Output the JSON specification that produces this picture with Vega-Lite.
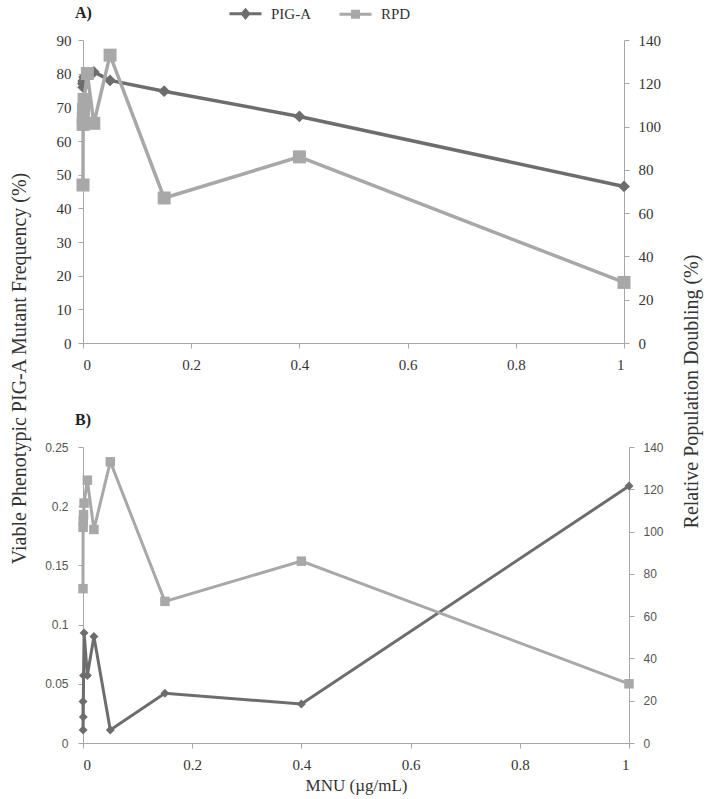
{
  "$schema": "https://vega.github.io/schema/vega-lite/v6.json",
  "background": "white",
  "padding": {"left": 9, "top": 2, "right": 5, "bottom": 2},
  "bounds": "flush",
  "spacing": 104,
  "config": {
    "view": {"stroke": null},
    "font": "Liberation Serif",
    "axis": {"grid": false, "domainColor": "#a6a6a6", "tickColor": "#a6a6a6", "labelColor": "#333333", "labelFont": "Liberation Serif", "labelFontSize": 15, "titleFont": "Liberation Serif", "titleFontSize": 20, "titleFontWeight": "normal", "titleColor": "#333333", "tickSize": 5, "labelPadding": 8},
    "legend": {"labelFont": "Liberation Serif"}
  },
  "datasets": {
    "d": [
      {"panel": "A", "series": "PIG-A", "ord": 1, "dose": 0, "value": 77},
      {"panel": "A", "series": "PIG-A", "ord": 2, "dose": 0.0002, "value": 76},
      {"panel": "A", "series": "PIG-A", "ord": 3, "dose": 0.0005, "value": 77.5},
      {"panel": "A", "series": "PIG-A", "ord": 4, "dose": 0.001, "value": 78},
      {"panel": "A", "series": "PIG-A", "ord": 5, "dose": 0.002, "value": 79},
      {"panel": "A", "series": "PIG-A", "ord": 6, "dose": 0.008, "value": 80},
      {"panel": "A", "series": "PIG-A", "ord": 7, "dose": 0.02, "value": 80.5},
      {"panel": "A", "series": "PIG-A", "ord": 8, "dose": 0.05, "value": 78},
      {"panel": "A", "series": "PIG-A", "ord": 9, "dose": 0.15, "value": 74.8},
      {"panel": "A", "series": "PIG-A", "ord": 10, "dose": 0.4, "value": 67.3},
      {"panel": "A", "series": "PIG-A", "ord": 11, "dose": 1, "value": 46.5},
      {"panel": "A", "series": "RPD", "ord": 1, "dose": 0, "value": 73},
      {"panel": "A", "series": "RPD", "ord": 2, "dose": 0.0002, "value": 101},
      {"panel": "A", "series": "RPD", "ord": 3, "dose": 0.0005, "value": 104},
      {"panel": "A", "series": "RPD", "ord": 4, "dose": 0.001, "value": 108},
      {"panel": "A", "series": "RPD", "ord": 5, "dose": 0.002, "value": 112.5},
      {"panel": "A", "series": "RPD", "ord": 6, "dose": 0.008, "value": 124.5},
      {"panel": "A", "series": "RPD", "ord": 7, "dose": 0.02, "value": 101.5},
      {"panel": "A", "series": "RPD", "ord": 8, "dose": 0.05, "value": 133},
      {"panel": "A", "series": "RPD", "ord": 9, "dose": 0.15, "value": 67},
      {"panel": "A", "series": "RPD", "ord": 10, "dose": 0.4, "value": 86},
      {"panel": "A", "series": "RPD", "ord": 11, "dose": 1, "value": 28},
      {"panel": "B", "series": "PIG-A", "ord": 1, "dose": 0, "value": 0.035},
      {"panel": "B", "series": "PIG-A", "ord": 2, "dose": 0.0002, "value": 0.011},
      {"panel": "B", "series": "PIG-A", "ord": 3, "dose": 0.0005, "value": 0.022},
      {"panel": "B", "series": "PIG-A", "ord": 4, "dose": 0.001, "value": 0.057},
      {"panel": "B", "series": "PIG-A", "ord": 5, "dose": 0.002, "value": 0.093},
      {"panel": "B", "series": "PIG-A", "ord": 6, "dose": 0.008, "value": 0.057},
      {"panel": "B", "series": "PIG-A", "ord": 7, "dose": 0.02, "value": 0.09},
      {"panel": "B", "series": "PIG-A", "ord": 8, "dose": 0.05, "value": 0.011},
      {"panel": "B", "series": "PIG-A", "ord": 9, "dose": 0.15, "value": 0.042},
      {"panel": "B", "series": "PIG-A", "ord": 10, "dose": 0.4, "value": 0.033},
      {"panel": "B", "series": "PIG-A", "ord": 11, "dose": 1, "value": 0.217},
      {"panel": "B", "series": "RPD", "ord": 1, "dose": 0, "value": 73},
      {"panel": "B", "series": "RPD", "ord": 2, "dose": 0.0002, "value": 102},
      {"panel": "B", "series": "RPD", "ord": 3, "dose": 0.0005, "value": 105},
      {"panel": "B", "series": "RPD", "ord": 4, "dose": 0.001, "value": 108},
      {"panel": "B", "series": "RPD", "ord": 5, "dose": 0.002, "value": 113.5},
      {"panel": "B", "series": "RPD", "ord": 6, "dose": 0.008, "value": 124.3},
      {"panel": "B", "series": "RPD", "ord": 7, "dose": 0.02, "value": 101},
      {"panel": "B", "series": "RPD", "ord": 8, "dose": 0.05, "value": 133},
      {"panel": "B", "series": "RPD", "ord": 9, "dose": 0.15, "value": 67},
      {"panel": "B", "series": "RPD", "ord": 10, "dose": 0.4, "value": 86},
      {"panel": "B", "series": "RPD", "ord": 11, "dose": 1, "value": 28}
    ]
  },
  "vconcat": [
    {
      "width": 541,
      "height": 303,
      "title": {"text": "A)", "anchor": "start", "frame": "group", "dx": -8, "offset": 12, "fontSize": 16, "fontWeight": "bold", "font": "Liberation Serif", "color": "#222222"},
      "data": {"name": "d"},
      "transform": [{"filter": "datum.panel === 'A'"}],
      "encoding": {
        "x": {"field": "dose", "type": "quantitative", "scale": {"domain": [0, 1], "nice": false}, "axis": {"values": [0, 0.2, 0.4, 0.6, 0.8, 1], "format": "~g", "title": null, "labelPadding": 9, "labelFont": "Liberation Serif"}},
        "color": {"field": "series", "type": "nominal", "scale": {"domain": ["PIG-A", "RPD"], "range": ["#6d6d6d", "#a8a8a8"]},
          "legend": {"orient": "none", "legendX": 151, "legendY": -38, "direction": "horizontal", "title": null, "labelFont": "Liberation Serif", "labelFontSize": 15, "labelColor": "#333333", "symbolSize": 400, "labelOffset": 14, "columnPadding": 22,
            "encode": {"symbols": {"update": {
              "shape": {"signal": "datum.value === 'PIG-A' ? 'M-1.6,0H1.6M0,-0.38L0.32,0L0,0.38L-0.32,0Z' : 'M-1.6,0H1.6M-0.3,-0.3H0.3V0.3H-0.3Z'"},
              "fill": {"signal": "datum.value === 'PIG-A' ? '#6d6d6d' : '#a8a8a8'"},
              "stroke": {"signal": "datum.value === 'PIG-A' ? '#6d6d6d' : '#a8a8a8'"},
              "strokeWidth": {"value": 3},
              "opacity": {"value": 1}
            }}}}
        }
      },
      "layer": [
        {
          "transform": [{"filter": "datum.series === 'PIG-A'"}],
          "encoding": {
            "y": {"field": "value", "type": "quantitative", "scale": {"domain": [0, 90], "nice": false},
              "axis": {"orient": "left", "values": [0, 10, 20, 30, 40, 50, 60, 70, 80, 90], "title": "Viable Phenotypic PIG-A Mutant Frequency (%)", "titleX": -64, "titleY": 328, "titleAngle": 270, "titleBaseline": "middle", "titleAlign": "center", "labelPadding": 7, "labelFont": "Liberation Serif", "titleFont": "Liberation Serif"}}
          },
          "layer": [
            {"mark": {"type": "line", "strokeWidth": 3.5}, "encoding": {"order": {"field": "ord", "type": "quantitative"}}},
            {"mark": {"type": "point", "shape": "diamond", "filled": true, "size": 140, "opacity": 1}}
          ]
        },
        {
          "transform": [{"filter": "datum.series === 'RPD'"}],
          "encoding": {
            "y": {"field": "value", "type": "quantitative", "scale": {"domain": [0, 140], "nice": false},
              "axis": {"orient": "right", "values": [0, 20, 40, 60, 80, 100, 120, 140], "title": "Relative Population Doubling (%)", "titleX": 67, "titleY": 351, "titleAngle": 270, "titleBaseline": "middle", "titleAlign": "center", "labelPadding": 9, "labelFont": "Liberation Serif", "titleFont": "Liberation Serif"}}
          },
          "layer": [
            {"mark": {"type": "line", "strokeWidth": 3.5}, "encoding": {"order": {"field": "ord", "type": "quantitative"}}},
            {"mark": {"type": "point", "shape": "square", "filled": true, "size": 169, "opacity": 1}}
          ]
        }
      ],
      "resolve": {"scale": {"y": "independent"}}
    },
    {
      "width": 546,
      "height": 296,
      "title": {"text": "B)", "anchor": "start", "frame": "group", "dx": -8, "offset": 13, "fontSize": 16, "fontWeight": "bold", "font": "Liberation Serif", "color": "#222222"},
      "data": {"name": "d"},
      "transform": [{"filter": "datum.panel === 'B'"}],
      "encoding": {
        "x": {"field": "dose", "type": "quantitative", "scale": {"domain": [0, 1], "nice": false}, "axis": {"values": [0, 0.2, 0.4, 0.6, 0.8, 1], "format": "~g", "title": "MNU (µg/mL)", "titleFontSize": 17, "titlePadding": 5, "labelPadding": 9, "labelFont": "Liberation Serif", "titleFont": "Liberation Serif"}},
        "color": {"field": "series", "type": "nominal", "scale": {"domain": ["PIG-A", "RPD"], "range": ["#6d6d6d", "#a8a8a8"]}, "legend": null}
      },
      "layer": [
        {
          "transform": [{"filter": "datum.series === 'PIG-A'"}],
          "encoding": {
            "y": {"field": "value", "type": "quantitative", "scale": {"domain": [0, 0.25], "nice": false},
              "axis": {"orient": "left", "values": [0, 0.05, 0.1, 0.15, 0.2, 0.25], "format": "~g", "title": null, "labelFont": "Liberation Sans", "labelFontSize": 12, "labelColor": "#555555", "labelPadding": 10}}
          },
          "layer": [
            {"mark": {"type": "line", "strokeWidth": 3}, "encoding": {"order": {"field": "ord", "type": "quantitative"}}},
            {"mark": {"type": "point", "shape": "diamond", "filled": true, "size": 80, "opacity": 1}}
          ]
        },
        {
          "transform": [{"filter": "datum.series === 'RPD'"}],
          "encoding": {
            "y": {"field": "value", "type": "quantitative", "scale": {"domain": [0, 140], "nice": false},
              "axis": {"orient": "right", "values": [0, 20, 40, 60, 80, 100, 120, 140], "title": null, "labelFont": "Liberation Sans", "labelFontSize": 12, "labelColor": "#555555", "labelPadding": 9}}
          },
          "layer": [
            {"mark": {"type": "line", "strokeWidth": 3}, "encoding": {"order": {"field": "ord", "type": "quantitative"}}},
            {"mark": {"type": "point", "shape": "square", "filled": true, "size": 90, "opacity": 1}}
          ]
        }
      ],
      "resolve": {"scale": {"y": "independent"}}
    }
  ]
}
